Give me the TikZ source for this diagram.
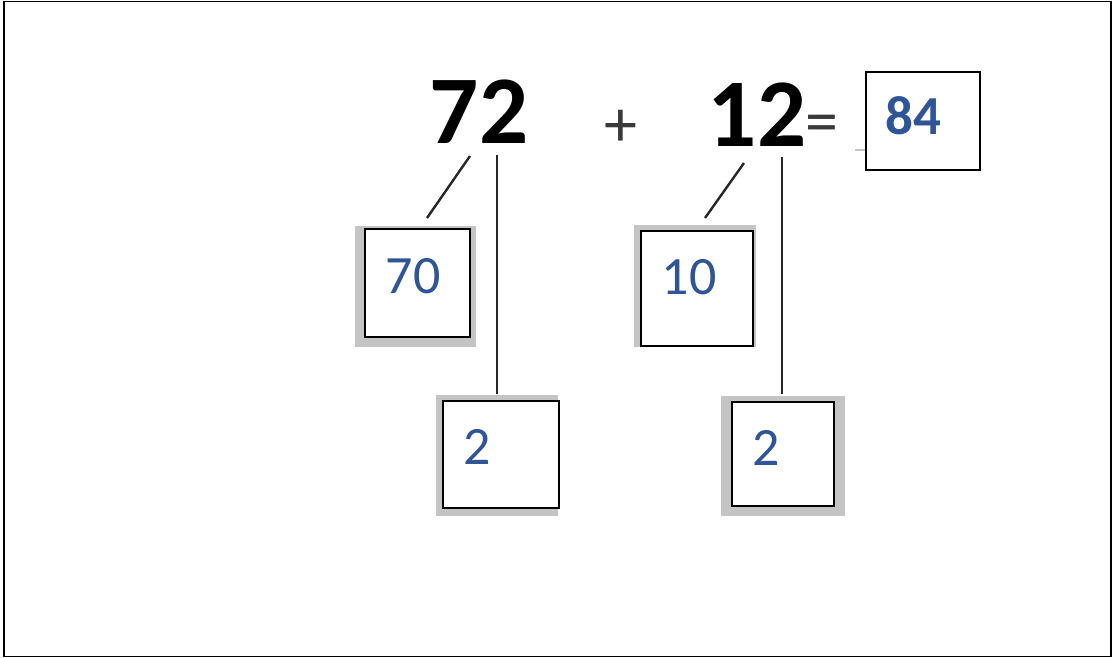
\documentclass[tikz,border=0pt]{standalone}
\usepackage{fontspec}
\setmainfont{Carlito}
\definecolor{numblue}{HTML}{2F5597}
\definecolor{boxgray}{HTML}{C4C4C4}
\definecolor{opgray}{HTML}{3A3A3A}
\begin{document}
\begin{tikzpicture}[x=1pt,y=-1pt,
  bignum/.style={inner sep=0pt,font=\fontsize{97}{97}\selectfont\bfseries,text=black},
  boxnum/.style={inner sep=0pt,font=\fontsize{54}{54}\selectfont,text=numblue},
  opsym/.style={inner sep=0pt,font=\fontsize{66}{66}\selectfont,text=opgray},
  inbox/.style={draw=black,fill=white,line width=1.2pt},
  graybox/.style={fill=boxgray},
  link/.style={draw=black!85,line width=2.4pt}]
\useasboundingbox (0,0) rectangle (1114,658);
\fill[white] (0,0) rectangle (1114,658);
\draw[black,line width=1.3pt] (4,1.5) rectangle (1111,656.5);
% top numbers
\node[bignum] (n72) at (479,112) {72};
\node[opsym] (plus) at (621,128) {+};
\node[bignum] (n12) at (757,115) {12};
\node[opsym] (eq) at (822,129) {=};
\draw[boxgray,line width=1.5pt] (855,150) -- (866,150);
% 84 box
\draw[inbox] (866,72) rectangle (980,170);
\node[boxnum,font=\fontsize{55}{55}\selectfont\bfseries] (t84) at (913,116) {84};
% 70 box
\fill[graybox] (355,226) rectangle (476,347);
\draw[inbox] (365,229) rectangle (470,337);
\node[boxnum] (t70) at (413,276) {70};
% left 2 box
\fill[graybox] (436,395) rectangle (558,516);
\draw[inbox] (443,401) rectangle (559,508);
\node[boxnum] (t2a) at (477,447) {2};
% 10 box
\fill[graybox] (634,225) rectangle (756,347);
\draw[inbox] (641,231) rectangle (753,346);
\node[boxnum] (t10) at (689,277) {10};
% right 2 box
\fill[graybox] (721,396) rectangle (845,516);
\draw[inbox] (732,402) rectangle (834,506);
\node[boxnum] (t2b) at (766,448) {2};
% connectors
\coordinate (a1) at (470,156); \coordinate (a2) at (427,218);
\coordinate (b1) at (497,155); \coordinate (b2) at (497,394);
\coordinate (c1) at (744,163); \coordinate (c2) at (705,218);
\coordinate (d1) at (782,157); \coordinate (d2) at (782,394);
\draw[link] (a1) -- (a2);
\draw[link] (b1) -- (b2);
\draw[link] (c1) -- (c2);
\draw[link] (d1) -- (d2);
\end{tikzpicture}
\end{document}
